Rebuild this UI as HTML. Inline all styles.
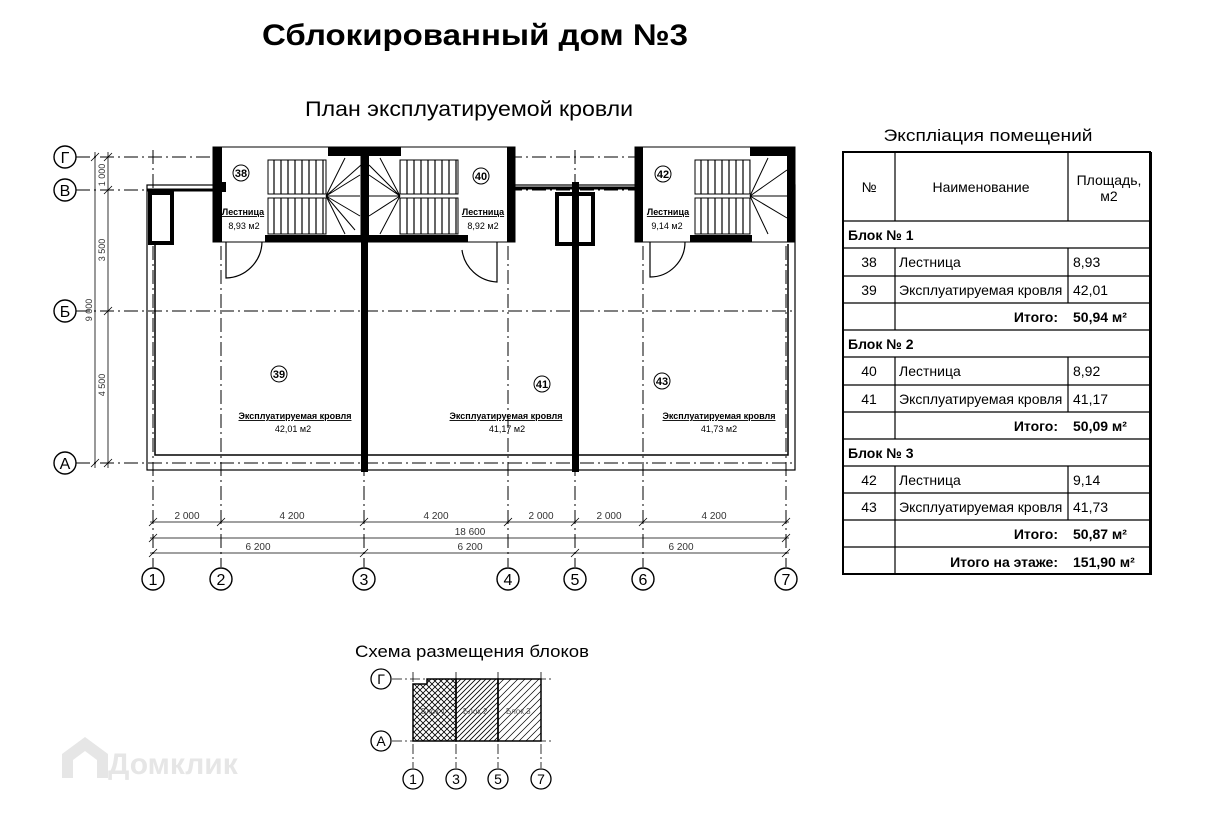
<!DOCTYPE html>
<html><head><meta charset="utf-8"><style>
body{margin:0;background:#fff;width:1219px;height:818px;overflow:hidden;font-family:"Liberation Sans",sans-serif}
svg text{font-family:"Liberation Sans",sans-serif}
</style></head><body>
<svg width="1219" height="818" viewBox="0 0 1219 818" xmlns="http://www.w3.org/2000/svg">
<defs>
<pattern id="tread" width="7" height="10" patternUnits="userSpaceOnUse"><line x1="1" y1="0" x2="1" y2="10" stroke="#000" stroke-width="1.2"/></pattern>
<pattern id="cross" width="6" height="6" patternUnits="userSpaceOnUse"><path d="M0 0L6 6M6 0L0 6" stroke="#000" stroke-width="0.8"/></pattern>
<pattern id="h1" width="5" height="5" patternUnits="userSpaceOnUse"><path d="M0 5L5 0M-1 1L1 -1M4 6L6 4" stroke="#000" stroke-width="0.8"/></pattern>
<pattern id="h2" width="7" height="7" patternUnits="userSpaceOnUse"><path d="M0 7L7 0M-1 1L1 -1M6 8L8 6" stroke="#000" stroke-width="0.7"/></pattern>
</defs>
<text x="475" y="45" font-size="30" font-weight="bold" text-anchor="middle" textLength="426" lengthAdjust="spacingAndGlyphs">Сблокированный дом №3</text>
<text x="469" y="116" font-size="21" text-anchor="middle" textLength="328" lengthAdjust="spacingAndGlyphs">План эксплуатируемой кровли</text>

<!-- grid lines -->
<g stroke="#000" stroke-width="1" stroke-dasharray="14,4,2,4">
<line x1="76" y1="157" x2="795" y2="157"/>
<line x1="76" y1="190" x2="795" y2="190"/>
<line x1="76" y1="311" x2="795" y2="311"/>
<line x1="76" y1="463" x2="795" y2="463"/>
<line x1="153" y1="150" x2="153" y2="567"/>
<line x1="221" y1="150" x2="221" y2="567"/>
<line x1="364" y1="150" x2="364" y2="567"/>
<line x1="508" y1="150" x2="508" y2="567"/>
<line x1="575" y1="150" x2="575" y2="567"/>
<line x1="643" y1="150" x2="643" y2="567"/>
<line x1="786" y1="150" x2="786" y2="567"/>
</g>
<g fill="#fff" stroke="#000" stroke-width="1.4">
<circle cx="65" cy="157" r="11"/><circle cx="65" cy="190" r="11"/><circle cx="65" cy="311" r="11"/><circle cx="65" cy="463" r="11"/>
</g>
<g font-size="16" text-anchor="middle"><text x="65" y="163">Г</text><text x="65" y="196">В</text><text x="65" y="317">Б</text><text x="65" y="469">А</text></g>
<g fill="#fff" stroke="#000" stroke-width="1.4">
<circle cx="153" cy="579" r="11"/><circle cx="221" cy="579" r="11"/><circle cx="364" cy="579" r="11"/><circle cx="508" cy="579" r="11"/><circle cx="575" cy="579" r="11"/><circle cx="643" cy="579" r="11"/><circle cx="786" cy="579" r="11"/>
</g>
<g font-size="16" text-anchor="middle"><text x="153" y="585">1</text><text x="221" y="585">2</text><text x="364" y="585">3</text><text x="508" y="585">4</text><text x="575" y="585">5</text><text x="643" y="585">6</text><text x="786" y="585">7</text></g>

<!-- left dims -->
<g stroke="#000" stroke-width="0.8">
<line x1="95" y1="152" x2="95" y2="468"/><line x1="108" y1="152" x2="108" y2="468"/>
<path d="M91 161l8-8M91 467l8-8M104 161l8-8M104 194l8-8M104 315l8-8M104 467l8-8"/>
</g>
<g font-size="9" fill="#333"><text transform="translate(105,175) rotate(-90)" text-anchor="middle">1 000</text>
<text transform="translate(105,250) rotate(-90)" text-anchor="middle">3 500</text>
<text transform="translate(105,385) rotate(-90)" text-anchor="middle">4 500</text>
<text transform="translate(92,310) rotate(-90)" text-anchor="middle">9 000</text></g>

<!-- bottom dims -->
<g stroke="#000" stroke-width="0.8">
<line x1="150" y1="522" x2="789" y2="522"/><line x1="150" y1="538" x2="789" y2="538"/><line x1="150" y1="553" x2="789" y2="553"/>
<path d="M149 526l8-8M217 526l8-8M360 526l8-8M504 526l8-8M571 526l8-8M639 526l8-8M782 526l8-8M149 542l8-8M782 542l8-8M149 557l8-8M360 557l8-8M571 557l8-8M782 557l8-8"/>
</g>
<g font-size="10" fill="#333" text-anchor="middle">
<text x="187" y="519">2 000</text><text x="292" y="519">4 200</text><text x="436" y="519">4 200</text><text x="541" y="519">2 000</text><text x="609" y="519">2 000</text><text x="714" y="519">4 200</text>
<text x="470" y="535">18 600</text><text x="258" y="550">6 200</text><text x="470" y="550">6 200</text><text x="681" y="550">6 200</text></g>

<!-- building outline -->
<g fill="none" stroke="#000">
<rect x="147" y="185" width="648" height="285" stroke-width="1.2"/>
<path d="M155 195V455H361M368 455H572M579 455H788V244" stroke-width="1.5"/>
<line x1="147" y1="190" x2="213" y2="190" stroke-width="3"/>
<line x1="515" y1="188" x2="635" y2="188" stroke-width="3"/>
</g>
<rect x="361" y="240" width="7" height="232" fill="#000"/>
<rect x="572" y="182" width="7" height="290" fill="#000"/>
<!-- chimneys -->
<rect x="150" y="193" width="22" height="50" fill="#fff" stroke="#000" stroke-width="4"/>
<rect x="557" y="194" width="36" height="50" fill="#fff" stroke="#000" stroke-width="4"/>
<rect x="572" y="182" width="7" height="64" fill="#000"/>

<!-- stair blocks -->
<g>
<rect x="213" y="147" width="148" height="95" fill="#fff" stroke="#000" stroke-width="1"/>
<rect x="213" y="147" width="9" height="95" fill="#000"/><rect x="328" y="147" width="36" height="9" fill="#000"/>
<rect x="265" y="235" width="96" height="7" fill="#000"/><rect x="222" y="182" width="4" height="10" fill="#000"/>
<rect x="268" y="160" width="58" height="34" fill="url(#tread)" stroke="#000"/><rect x="268" y="198" width="58" height="36" fill="url(#tread)" stroke="#000"/>
<path d="M326 196L345 158M326 196L360 175M326 196L360 196M326 196L360 216M326 196L345 234M326 196L361 165M326 196L355 230" stroke="#000" fill="none"/>
<rect x="361" y="147" width="154" height="95" fill="#fff" stroke="#000"/>
<rect x="361" y="147" width="8" height="95" fill="#000"/><rect x="507" y="147" width="8" height="95" fill="#000"/>
<rect x="361" y="147" width="40" height="9" fill="#000"/><rect x="368" y="235" width="100" height="7" fill="#000"/>
<rect x="400" y="160" width="58" height="34" fill="url(#tread)" stroke="#000"/><rect x="400" y="198" width="58" height="36" fill="url(#tread)" stroke="#000"/>
<path d="M400 196L380 158M400 196L369 175M400 196L369 196M400 196L369 216M400 196L380 234M400 196L369 165" stroke="#000" fill="none"/>
<rect x="635" y="147" width="160" height="95" fill="#fff" stroke="#000"/>
<rect x="635" y="147" width="8" height="95" fill="#000"/><rect x="787" y="147" width="8" height="95" fill="#000"/>
<rect x="750" y="147" width="45" height="9" fill="#000"/><rect x="690" y="235" width="62" height="7" fill="#000"/>
<rect x="695" y="160" width="55" height="34" fill="url(#tread)" stroke="#000"/><rect x="695" y="198" width="55" height="36" fill="url(#tread)" stroke="#000"/>
<path d="M750 196L768 158M750 196L787 170M750 196L787 196M750 196L787 218M750 196L768 234" stroke="#000" fill="none"/>
</g>
<!-- doors -->
<g fill="none" stroke="#000" stroke-width="1.2">
<path d="M226 242V278A37 37 0 0 0 262 242"/><path d="M497 242V282A37 37 0 0 1 462 250"/><path d="M650 242V277A35 35 0 0 0 685 242"/>
</g>
<g font-size="9" text-anchor="middle">
<circle cx="241" cy="173" r="8" fill="#fff" stroke="#000"/><text x="241" y="177" font-size="11" font-weight="bold">38</text>
<circle cx="481" cy="176" r="8" fill="#fff" stroke="#000"/><text x="481" y="180" font-size="11" font-weight="bold">40</text>
<circle cx="663" cy="174" r="8" fill="#fff" stroke="#000"/><text x="663" y="178" font-size="11" font-weight="bold">42</text>
<text x="243" y="215" text-decoration="underline" font-weight="bold">Лестница</text><text x="244" y="229">8,93 м2</text>
<text x="483" y="215" text-decoration="underline" font-weight="bold">Лестница</text><text x="483" y="229">8,92 м2</text>
<text x="668" y="215" text-decoration="underline" font-weight="bold">Лестница</text><text x="667" y="229">9,14 м2</text>
<circle cx="279" cy="374" r="8" fill="#fff" stroke="#000"/><text x="279" y="378" font-size="11" font-weight="bold">39</text>
<circle cx="542" cy="384" r="8" fill="#fff" stroke="#000"/><text x="542" y="388" font-size="11" font-weight="bold">41</text>
<circle cx="662" cy="381" r="8" fill="#fff" stroke="#000"/><text x="662" y="385" font-size="11" font-weight="bold">43</text>
<text x="295" y="419" text-decoration="underline" font-weight="bold">Эксплуатируемая кровля</text><text x="293" y="432">42,01 м2</text>
<text x="506" y="419" text-decoration="underline" font-weight="bold">Эксплуатируемая кровля</text><text x="507" y="432">41,17 м2</text>
<text x="719" y="419" text-decoration="underline" font-weight="bold">Эксплуатируемая кровля</text><text x="719" y="432">41,73 м2</text>
</g>

<!-- table -->
<text x="988" y="141" font-size="17" text-anchor="middle" textLength="209" lengthAdjust="spacingAndGlyphs">Экспліация помещений</text>
<g stroke="#000" fill="none">
<rect x="843" y="152" width="307" height="422" stroke-width="2"/>
<line x1="1151" y1="152" x2="1151" y2="575" stroke-width="2"/>
<path d="M843 221H1150M843 248H1150M843 276H1150M843 303H1150M843 330H1150M843 357H1150M843 385H1150M843 412H1150M843 439H1150M843 466H1150M843 493H1150M843 520H1150M843 547H1150" stroke-width="1.2"/>
<path d="M895 152V221M1068 152V221M895 248V330M1068 248V303M895 357V439M1068 357V412M895 466V574M1068 466V520" stroke-width="1.2"/>
</g>
<g font-size="14">
<text x="869" y="192" text-anchor="middle">№</text><text x="981" y="192" text-anchor="middle">Наименование</text>
<text x="1109" y="185" text-anchor="middle">Площадь,</text><text x="1109" y="201" text-anchor="middle">м2</text>
<g font-weight="bold"><text x="848" y="240">Блок № 1</text><text x="848" y="349">Блок № 2</text><text x="848" y="458">Блок № 3</text>
<text x="1058" y="322" text-anchor="end">Итого:</text><text x="1073" y="322">50,94 м²</text>
<text x="1058" y="431" text-anchor="end">Итого:</text><text x="1073" y="431">50,09 м²</text>
<text x="1058" y="539" text-anchor="end">Итого:</text><text x="1073" y="539">50,87 м²</text>
<text x="1058" y="567" text-anchor="end">Итого на этаже:</text><text x="1073" y="567">151,90 м²</text></g>
<text x="869" y="267" text-anchor="middle">38</text><text x="899" y="267">Лестница</text><text x="1073" y="267">8,93</text>
<text x="869" y="295" text-anchor="middle">39</text><text x="899" y="295">Эксплуатируемая кровля</text><text x="1073" y="295">42,01</text>
<text x="869" y="376" text-anchor="middle">40</text><text x="899" y="376">Лестница</text><text x="1073" y="376">8,92</text>
<text x="869" y="404" text-anchor="middle">41</text><text x="899" y="404">Эксплуатируемая кровля</text><text x="1073" y="404">41,17</text>
<text x="869" y="485" text-anchor="middle">42</text><text x="899" y="485">Лестница</text><text x="1073" y="485">9,14</text>
<text x="869" y="512" text-anchor="middle">43</text><text x="899" y="512">Эксплуатируемая кровля</text><text x="1073" y="512">41,73</text>
</g>

<!-- schema -->
<text x="472" y="657" font-size="17" text-anchor="middle" textLength="234" lengthAdjust="spacingAndGlyphs">Схема размещения блоков</text>
<g stroke="#000" stroke-width="0.8" stroke-dasharray="10,3,2,3"><line x1="392" y1="679" x2="552" y2="679"/><line x1="392" y1="741" x2="552" y2="741"/>
<line x1="413" y1="672" x2="413" y2="768"/><line x1="456" y1="672" x2="456" y2="768"/><line x1="498" y1="672" x2="498" y2="768"/><line x1="541" y1="672" x2="541" y2="768"/></g>
<path d="M413 684H427V679H456V741H413Z" fill="url(#cross)" stroke="#000" stroke-width="1.5"/>
<path d="M456 679H498V741H456Z" fill="url(#h1)" stroke="#000" stroke-width="1.5"/>
<path d="M498 679H541V741H498Z" fill="url(#h2)" stroke="#000" stroke-width="1.5"/>
<g font-size="8" fill="#555"><text x="421" y="714">Блок 1</text><text x="463" y="714">Блок 2</text><text x="506" y="714">Блок 3</text></g>
<g fill="#fff" stroke="#000" stroke-width="1.3"><circle cx="381" cy="679" r="10"/><circle cx="381" cy="741" r="10"/><circle cx="413" cy="779" r="10"/><circle cx="456" cy="779" r="10"/><circle cx="498" cy="779" r="10"/><circle cx="541" cy="779" r="10"/></g>
<g font-size="14" text-anchor="middle"><text x="381" y="684">Г</text><text x="381" y="746">А</text><text x="413" y="784">1</text><text x="456" y="784">3</text><text x="498" y="784">5</text><text x="541" y="784">7</text></g>

<!-- watermark -->
<g fill="#e6e6e6"><path d="M62 778V754L85 737L108 754V778H97V760L85 751L73 760V778Z"/>
<text x="108" y="774" font-size="30" font-weight="bold">Домклик</text></g>
</svg>
</body></html>
